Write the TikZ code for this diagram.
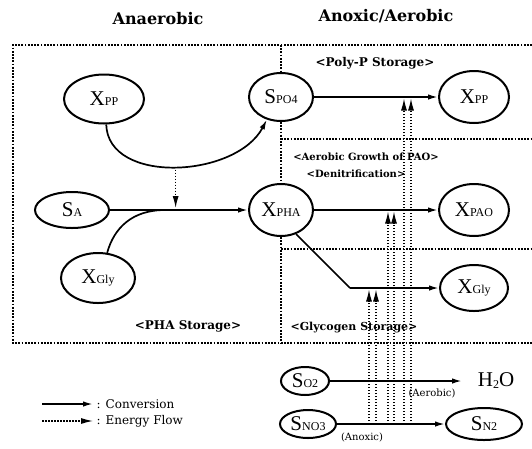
\documentclass[tikz,border=0pt]{standalone}
\usepackage{fontspec}
\setmainfont{Liberation Serif}
\newfontfamily\dvs{DejaVu Serif}
\usepackage{tikz}
\usetikzlibrary{shapes}
\usetikzlibrary{arrows.meta}
\usetikzlibrary{calc}

\newcommand{\species}[2]{{\fontsize{21}{21}\selectfont #1}{\fontsize{12}{12}\selectfont #2}}

\tikzset{
	pool/.style={ellipse, draw, line width=2pt, inner sep=0pt},
	conv/.style={line width=1.7pt, -{Latex[length=10pt,width=5.5pt]}},
	energy/.style={line width=1.2pt, dash pattern=on 1.5pt off 1.5pt, -{Latex[length=12pt,width=6pt]}},
	region/.style={line width=1.4pt, dash pattern=on 1.8pt off 1.4pt},
	ttl/.style={font=\dvs\bfseries\fontsize{16}{16}\selectfont},
	box/.style={font=\dvs\bfseries\fontsize{12}{12}\selectfont},
	note/.style={font=\dvs\fontsize{10}{10}\selectfont}
}

\begin{document}
\begin{tikzpicture}[x=1pt, y=-1pt]
			\useasboundingbox (0,0) rectangle (532,448);

			\coordinate (tl) at (13, 45);
			\coordinate (tr) at (532, 45);
			\coordinate (bl) at (13, 343);
			\coordinate (br) at (532, 343);
			\coordinate (dt) at (281, 45);
			\coordinate (db) at (281, 343);
			\coordinate (h1l) at (281, 139);
			\coordinate (h1r) at (532, 139);
			\coordinate (h2l) at (281, 249);
			\coordinate (h2r) at (532, 249);

			% pools
			\node[pool, minimum width=80, minimum height=49] (XPPa) at (104, 99) {\species{X}{PP}};
			\node[pool, minimum width=64, minimum height=48] (SPO4) at (281, 97) {\species{S}{PO4}};
			\node[pool, minimum width=70, minimum height=52] (XPPb) at (474, 97) {\species{X}{PP}};
			\node[pool, minimum width=74, minimum height=36] (SA) at (72, 210) {\species{S}{A}};
			\node[pool, minimum width=64, minimum height=52] (XPHA) at (281, 210) {\species{X}{PHA}};
			\node[pool, minimum width=70, minimum height=52] (XPAO) at (474, 210) {\species{X}{PAO}};
			\node[pool, minimum width=74, minimum height=50] (XGlya) at (98, 278) {\species{X}{Gly}};
			\node[pool, minimum width=68, minimum height=46] (XGlyb) at (474, 288) {\species{X}{Gly}};
			\node[pool, minimum width=48, minimum height=28] (SO2) at (305, 381) {\species{S}{O2}};
			\node[pool, minimum width=56, minimum height=28] (SNO3) at (308, 424) {\species{S}{NO3}};
			\node[pool, minimum width=76, minimum height=32] (SN2) at (484, 424) {\species{S}{N2}};
			\node (H2O) at (496, 381) {{\fontsize{21}{21}\selectfont H}\raisebox{-2pt}{\fontsize{12}{12}\selectfont 2}{\fontsize{21}{21}\selectfont O}};

			% regions
			\draw[region] (tr) -- (tl) -- (bl) -- (br);
			\draw[region] (dt) -- (SPO4);
			\draw[region] (SPO4) -- (XPHA);
			\draw[region] (XPHA) -- (db);
			\draw[region] (h1l) -- (h1r);
			\draw[region] (h2l) -- (h2r);

			\node[ttl] (ttlAn) at (158, 19) {Anaerobic};
			\node[ttl] (ttlAx) at (386, 16) {Anoxic/Aerobic};
			\node[box] (lblPP) at (375, 63) {<Poly-P Storage>};
			\node[box, font=\dvs\bfseries\fontsize{10}{10}\selectfont] (lblAG) at (366, 157) {<Aerobic Growth of PAO>};
			\node[box, font=\dvs\bfseries\fontsize{10}{10}\selectfont] (lblDN) at (356, 174) {<Denitrification>};
			\node[box] (lblPHA) at (188, 326) {<PHA Storage>};
			\node[box, font=\dvs\bfseries\fontsize{11}{11}\selectfont] (lblGS) at (354, 328) {<Glycogen Storage>};

			% conversions
			\coordinate (mrg) at (165, 210);
			\coordinate (bnd) at (350, 288);
			\draw[conv] (XPPa.-85) .. controls (108, 185) and (236, 178) .. coordinate[pos=0.5] (cv) (SPO4.-122);
			\draw[conv] (SA) -- (XPHA);
			\draw[line width=1.7pt] (XGlya.70) .. controls (114, 228) and (132, 210) .. (mrg);
			\draw[conv] (SPO4) -- (XPPb);
			\draw[conv] (XPHA) -- (XPAO);
			\draw[line width=1.7pt] (XPHA.-58) -- (bnd);
			\draw[conv] (bnd) -- (XGlyb);
			\draw[conv] (SO2) -- (462, 381);
			\draw[conv] (SNO3) -- (SN2);
			\node[note] (lblAer) at (432, 393) {(Aerobic)};
			\node[note] (lblAnx) at (362, 437) {(Anoxic)};

			% energy flows
			\draw[energy, shorten >=2pt] (cv) -- (cv |- SA.east);
			\foreach \x/\t in {369/bnd, 376/bnd, 388/XPAO, 394/XPAO, 404/XPPb, 411/XPPb}
			{
				\coordinate (lo) at (\x,0 |- SNO3);
				\coordinate (hi) at (\x,0 |- \t);
				\draw[energy, shorten >=1.5pt] (lo) -- (hi);
			}

			% legend
			\coordinate (lga) at (42, 404);
			\coordinate (lgb) at (93, 404);
			\coordinate (lgc) at (42, 421);
			\coordinate (lgd) at (93, 421);
			\draw[conv] (lga) -- (lgb);
			\draw[energy] (lgc) -- (lgd);
			\node[note, anchor=west, font=\dvs\fontsize{12}{12}\selectfont] (lgConv) at (lgb) {: Conversion};
			\node[note, anchor=west, font=\dvs\fontsize{12}{12}\selectfont] (lgEn) at (lgd) {: Energy Flow};
		\end{tikzpicture}
\end{document}
